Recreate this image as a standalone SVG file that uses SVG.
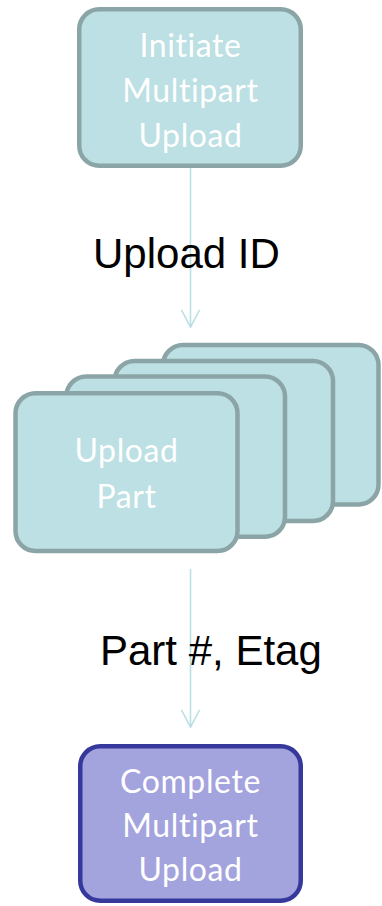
<svg xmlns="http://www.w3.org/2000/svg" width="382" height="906" viewBox="0 0 382 906">
  <style>
    .box { fill: #bce0e3; stroke: #8ba5a7; stroke-width: 4.5; }
    .box-done { fill: #a3a3de; stroke: #36399b; stroke-width: 4.5; }
    .label { fill: #ffffff; font-family: Lato, "Open Sans", sans-serif; font-size: 32px; text-anchor: middle; letter-spacing: 0.6px; }
    .edge { fill: none; stroke: #b9dfe3; stroke-width: 1.6; }
    .edge-label { fill: #000000; font-family: "Liberation Sans", Arial, sans-serif; font-size: 42px; }
  </style>
  <rect width="382" height="906" fill="#ffffff"/>

  <!-- connectors -->
  <g id="connectors">
    <line class="edge" x1="190.5" y1="168" x2="190.5" y2="327"/>
    <polyline class="edge" points="181.5,310 190.5,327 199.5,310"/>
    <line class="edge" x1="190.5" y1="569" x2="190.5" y2="727"/>
    <polyline class="edge" points="181.5,710 190.5,727 199.5,710"/>
    <text class="edge-label" x="93" y="268">Upload ID</text>
    <text class="edge-label" x="100" y="665">Part #, Etag</text>
  </g>

  <g id="initiate">
    <rect class="box" x="79.25" y="9.25" width="221.5" height="156.5" rx="20"/>
    <text class="label" x="190.5" y="57">Initiate</text>
    <text class="label" x="190.5" y="102">Multipart</text>
    <text class="label" x="190.5" y="147">Upload</text>
  </g>

  <!-- stacked part uploads, back to front -->
  <g id="upload-part">
    <rect class="box" x="163" y="345" width="215.5" height="159.5" rx="20"/>
    <rect class="box" x="114.5" y="361" width="218.5" height="160" rx="20"/>
    <rect class="box" x="66.25" y="376.5" width="218.75" height="160.25" rx="20"/>
    <rect class="box" x="15.5" y="393.25" width="222" height="157.75" rx="20"/>
    <text class="label" x="126.5" y="462">Upload</text>
    <text class="label" x="126.5" y="508">Part</text>
  </g>

  <g id="complete">
    <rect class="box-done" x="80.25" y="746.25" width="220.5" height="154.5" rx="20"/>
    <text class="label" x="190.5" y="793">Complete</text>
    <text class="label" x="190.5" y="837">Multipart</text>
    <text class="label" x="190.5" y="881">Upload</text>
  </g>
</svg>
